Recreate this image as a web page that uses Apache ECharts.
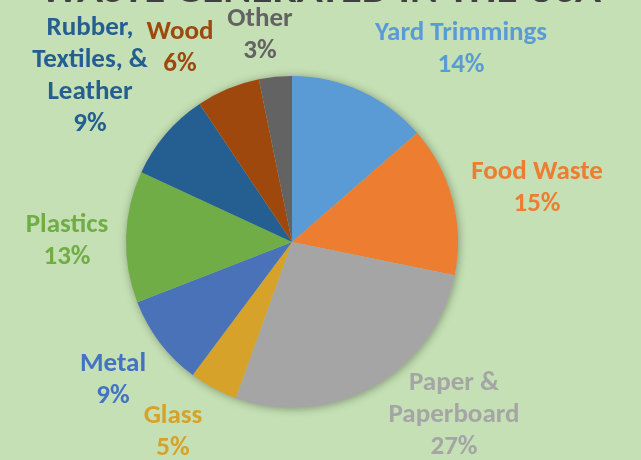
<!DOCTYPE html>
<html>
<head>
<meta charset="utf-8">
<script src="https://cdn.jsdelivr.net/npm/echarts@6/dist/echarts.min.js"></script>
<style>
html,body{margin:0;padding:0;background:#C5E0B4;}
#chart{width:641px;height:460px;}
</style>
</head>
<body>
<div id="chart"></div>
<script>
var titleText = 'WASTE GENERATED IN THE USA';
var categories = ['Yard Trimmings', 'Food Waste', 'Paper &\nPaperboard', 'Glass', 'Metal', 'Plastics', 'Rubber,\nTextiles, &\nLeather', 'Wood', 'Other'];
var values = [13.6, 14.6, 27.3, 4.7, 8.9, 12.8, 8.7, 6.2, 3.2];
var colors = ['#5B9BD5', '#ED7D31', '#A5A5A5', '#D6A229', '#4A72B8', '#70AD47', '#255E91', '#9E480E', '#636363'];
var labelColors = ['#5B9BD5', '#ED7D31', '#A5A5A5', '#D6A229', '#4472C4', '#70AD47', '#255E91', '#9E480E', '#636363'];
// label anchor points (layout styling)
var labelPos = [[461, 49], [537, 188], [454, 415], [173, 432], [113, 380], [67, 241], [90, 76], [180, 48], [260, 35]];

var total = values.reduce(function (a, b) { return a + b; }, 0);
var chart = echarts.init(document.getElementById('chart'), null, {renderer: 'canvas'});
var fontFam = 'Carlito, Lato, "Open Sans", sans-serif';
chart.setOption({
  backgroundColor: '#C5E0B4',
  animation: false,
  title: {
    text: titleText,
    left: 'center',
    top: -35,
    textStyle: {fontFamily: fontFam, fontWeight: 'bold', fontSize: 43, color: '#404040'}
  },
  series: [
    {
      type: 'pie',
      silent: true,
      center: [292, 242],
      radius: [0, 166],
      startAngle: 90,
      clockwise: true,
      label: {show: false},
      labelLine: {show: false},
      itemStyle: {color: '#A9C79A', shadowBlur: 8, shadowColor: 'rgba(0,0,0,0.35)', shadowOffsetX: 1, shadowOffsetY: 1},
      data: [{value: total, name: 'shadow'}],
      z: 1
    },
    {
      type: 'pie',
      center: [292, 242],
      radius: [0, 166],
      startAngle: 90,
      clockwise: true,
      avoidLabelOverlap: false,
      itemStyle: {borderWidth: 0},
      labelLine: {show: false},
      label: {
        show: true,
        position: 'outside',
        fontFamily: fontFam,
        fontWeight: 'bold',
        fontSize: 27,
        lineHeight: 32,
        align: 'center',
        formatter: function (p) { return p.name + '\n' + Math.round(p.value / total * 100) + '%'; }
      },
      labelLayout: function (p) {
        var pos = labelPos[p.dataIndex];
        return {x: pos[0], y: pos[1], align: 'center', verticalAlign: 'middle'};
      },
      data: categories.map(function (c, i) {
        return {name: c, value: values[i], itemStyle: {color: colors[i]}, label: {color: labelColors[i]}};
      }),
      z: 2
    }
  ]
});
</script>
</body>
</html>
